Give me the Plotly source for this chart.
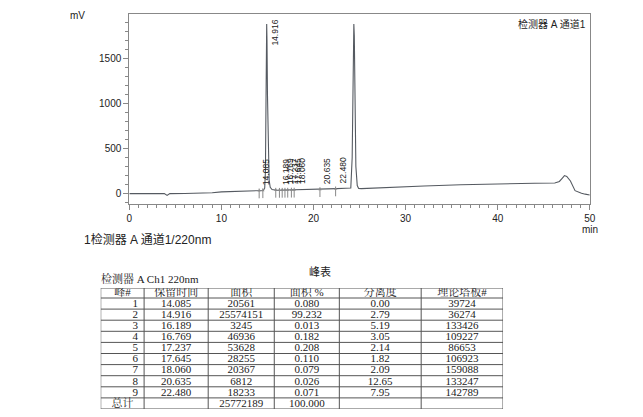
import plotly.graph_objects as go
import numpy as np

W, H = 643, 417
OFF = 8  # page body margin of the HTML page

# chromatogram trace (time in min, signal in mV)
t_pts = [0, 2, 3.8, 4.1, 4.4, 6, 8, 9, 10, 12, 13.8, 14.3, 14.55, 14.7, 14.78, 14.84, 14.88, 14.916, 14.95,
         15.0, 15.08, 15.18, 15.3, 15.5, 16.0, 17.0, 18.0, 19.7, 21.0, 22.5, 23.5, 24.05, 24.2, 24.28, 24.33,
         24.38, 24.43, 24.5, 24.6, 24.75, 24.9, 25.2, 28, 32, 36, 40, 42, 44, 46.2, 46.7, 47.0, 47.25, 47.5,
         47.9, 48.4, 48.8, 49.1, 49.5, 50]
mv_pts = [0, 0, 0, -20, 0, 2, 6, 10, 19, 25, 31, 33, 35, 60, 250, 1000, 1650, 1880, 1700,
          1100, 450, 150, 70, 45, 38, 40, 41, 43, 48, 55, 59, 62, 400, 1300, 1800,
          1880, 1750, 1000, 300, 90, 58, 55, 70, 85, 98, 110, 115, 115, 118, 135, 170, 200, 190,
          140, 33, 12, 4, -6, -15]

# peak table
peak_no = ["1", "2", "3", "4", "5", "6", "7", "8", "9", "总计"]
ret_time = ["14.085", "14.916", "16.189", "16.769", "17.237", "17.645", "18.060", "20.635", "22.480", ""]
area = ["20561", "25574151", "3245", "46936", "53628", "28255", "20367", "6812", "18233", "25772189"]
area_pct = ["0.080", "99.232", "0.013", "0.182", "0.208", "0.110", "0.079", "0.026", "0.071", "100.000"]
resolution = ["0.00", "2.79", "5.19", "3.05", "2.14", "1.82", "2.09", "12.65", "7.95", ""]
plates = ["39724", "36274", "133426", "109227", "86653", "106923", "159088", "133247", "142789", ""]
headers = ["峰#", "保留时间", "面积", "面积 %", "分离度", "理论塔板#"]

# peak labels (retention times), integration marker times
label_times = [14.085, 14.916, 16.189, 16.769, 17.237, 17.645, 18.060, 20.635, 22.480]
marker_times = [14.1, 14.5, 15.9, 16.3, 16.6, 16.9, 17.2, 17.6, 17.9, 20.7, 22.4]

SANS = "Liberation Sans, Arial, Noto Sans CJK SC"
SERIF = "Liberation Serif, Noto Serif CJK SC, Noto Sans CJK SC"


def px(xp):
    return (xp - OFF) / W


def py(yp):
    return 1 - (yp - OFF) / H


fig = go.Figure()
fig.add_trace(go.Scatter(x=t_pts, y=mv_pts, mode="lines", line=dict(color="#555a61", width=1.1),
                         hoverinfo="skip", showlegend=False))

mk_y = np.interp(marker_times, t_pts, mv_pts)
fig.add_trace(go.Scatter(x=marker_times, y=mk_y - 30, mode="markers",
                         marker=dict(symbol="line-ns-open", size=7, color="#888", line=dict(color="#888", width=1)),
                         showlegend=False, hoverinfo="skip"))
fig.add_trace(go.Scatter(x=marker_times, y=mk_y, mode="markers",
                         marker=dict(symbol="triangle-up", size=3, color="#888"),
                         showlegend=False, hoverinfo="skip"))

for i, t in enumerate(label_times):
    if i == 1:
        fig.add_annotation(x=t, y=1880, xref="x", yref="y", text=f"{t:.3f}", textangle=-90,
                           showarrow=False, xanchor="left", yanchor="top", xshift=1, yshift=6,
                           font=dict(family=SANS, size=8.5, color="#222"))
    else:
        b = float(np.interp(t, t_pts, mv_pts))
        fig.add_annotation(x=t, y=b + 40, xref="x", yref="y", text=f"{t:.3f}", textangle=-90,
                           showarrow=False, xanchor="left", yanchor="bottom", xshift=0,
                           font=dict(family=SANS, size=8.5, color="#222"))

fig.add_annotation(x=1, y=1, xref="x domain", yref="y domain", text="检测器 A 通道1", showarrow=False,
                   xanchor="right", yanchor="top", xshift=-2, yshift=-2,
                   font=dict(family=SANS, size=10, color="#222"))
fig.add_annotation(x=px(66), y=1, xref="paper", yref="paper", text="mV", showarrow=False,
                   xanchor="left", yanchor="top", font=dict(family=SANS, size=10, color="#222"))
fig.add_annotation(x=1, y=py(229), xref="x domain", yref="paper", text="min", showarrow=False,
                   xanchor="center", yanchor="middle", font=dict(family=SANS, size=10, color="#222"))
fig.add_annotation(x=px(80), y=py(239), xref="paper", yref="paper", text="1检测器 A 通道1/220nm",
                   showarrow=False, xanchor="left", yanchor="middle", font=dict(family=SANS, size=12, color="#222"))
fig.add_annotation(x=px(321), y=py(271), xref="paper", yref="paper", text="峰表",
                   showarrow=False, xanchor="center", yanchor="middle", font=dict(family=SANS, size=11, color="#222"))
fig.add_annotation(x=px(97), y=py(288), xref="paper", yref="paper", text="检测器 A Ch1 220nm",
                   showarrow=False, xanchor="left", yanchor="bottom", yshift=1,
                   font=dict(family=SERIF, size=11, color="#222"))

# ---- peak table drawn on its own axes (x2/y2), units = pixels inside the table ----
col_w = [44, 65, 67, 66, 83, 83]
edges = np.concatenate([[0], np.cumsum(col_w)])
head_h, row_h = 10, 11.1
n_rows = len(peak_no)
tab_h = head_h + row_h * n_rows
columns = [peak_no, ret_time, area, area_pct, resolution, plates]

tx, ty, tt = [], [], []
for c, name in enumerate(headers):
    tx.append((edges[c] + edges[c + 1]) / 2)
    ty.append(head_h / 2 + 0.5)
    tt.append(name)
for c, col in enumerate(columns):
    for r, v in enumerate(col):
        cx = (edges[c] + edges[c + 1]) / 2
        if c == 0 and r < 9:
            cx += 13
        tx.append(cx)
        ty.append(head_h + row_h * (r + 0.5) + 0.5)
        tt.append(v)
fig.add_trace(go.Scatter(x=tx, y=ty, text=tt, mode="text", xaxis="x2", yaxis="y2",
                         textfont=dict(family=SERIF, size=11, color="#222"), textposition="middle center",
                         showlegend=False, hoverinfo="skip"))

shapes = []
for e in edges:
    shapes.append(dict(type="line", xref="x2", yref="y2", x0=e, x1=e, y0=0, y1=tab_h,
                       line=dict(color="#555", width=1)))
hlines = [0, head_h] + [head_h + row_h * (r + 1) for r in range(n_rows)]
for h in hlines:
    shapes.append(dict(type="line", xref="x2", yref="y2", x0=0, x1=edges[-1], y0=h, y1=h,
                       line=dict(color="#555", width=1)))

fig.update_layout(
    width=W, height=H, margin=dict(l=0, r=0, t=0, b=0), paper_bgcolor="white", plot_bgcolor="white",
    shapes=shapes,
    xaxis=dict(domain=[px(128), px(595)], range=[0, 50], tickvals=[0, 10, 20, 30, 40, 50], ticks="outside", ticklen=5,
               minor=dict(dtick=1, ticks="outside", ticklen=3, tickcolor="#888"), tickcolor="#888",
               showline=True, mirror=True, linecolor="#888", linewidth=1, showgrid=False, zeroline=False,
               tickfont=dict(family=SANS, size=10, color="#222")),
    yaxis=dict(domain=[py(204), py(14)], range=[-115, 1990], tickvals=[0, 500, 1000, 1500], ticks="outside", ticklen=5,
               minor=dict(dtick=100, ticks="outside", ticklen=3, tickcolor="#888"), tickcolor="#888",
               showline=True, mirror=True, linecolor="#888", linewidth=1, showgrid=False, zeroline=False,
               tickfont=dict(family=SANS, size=10, color="#222")),
    xaxis2=dict(domain=[px(99), px(507)], range=[0, edges[-1]], visible=False, anchor="y2", fixedrange=True),
    yaxis2=dict(domain=[py(288 + tab_h), py(288)], range=[tab_h, 0], visible=False, anchor="x2", fixedrange=True),
)

fig.write_html("out.html")
